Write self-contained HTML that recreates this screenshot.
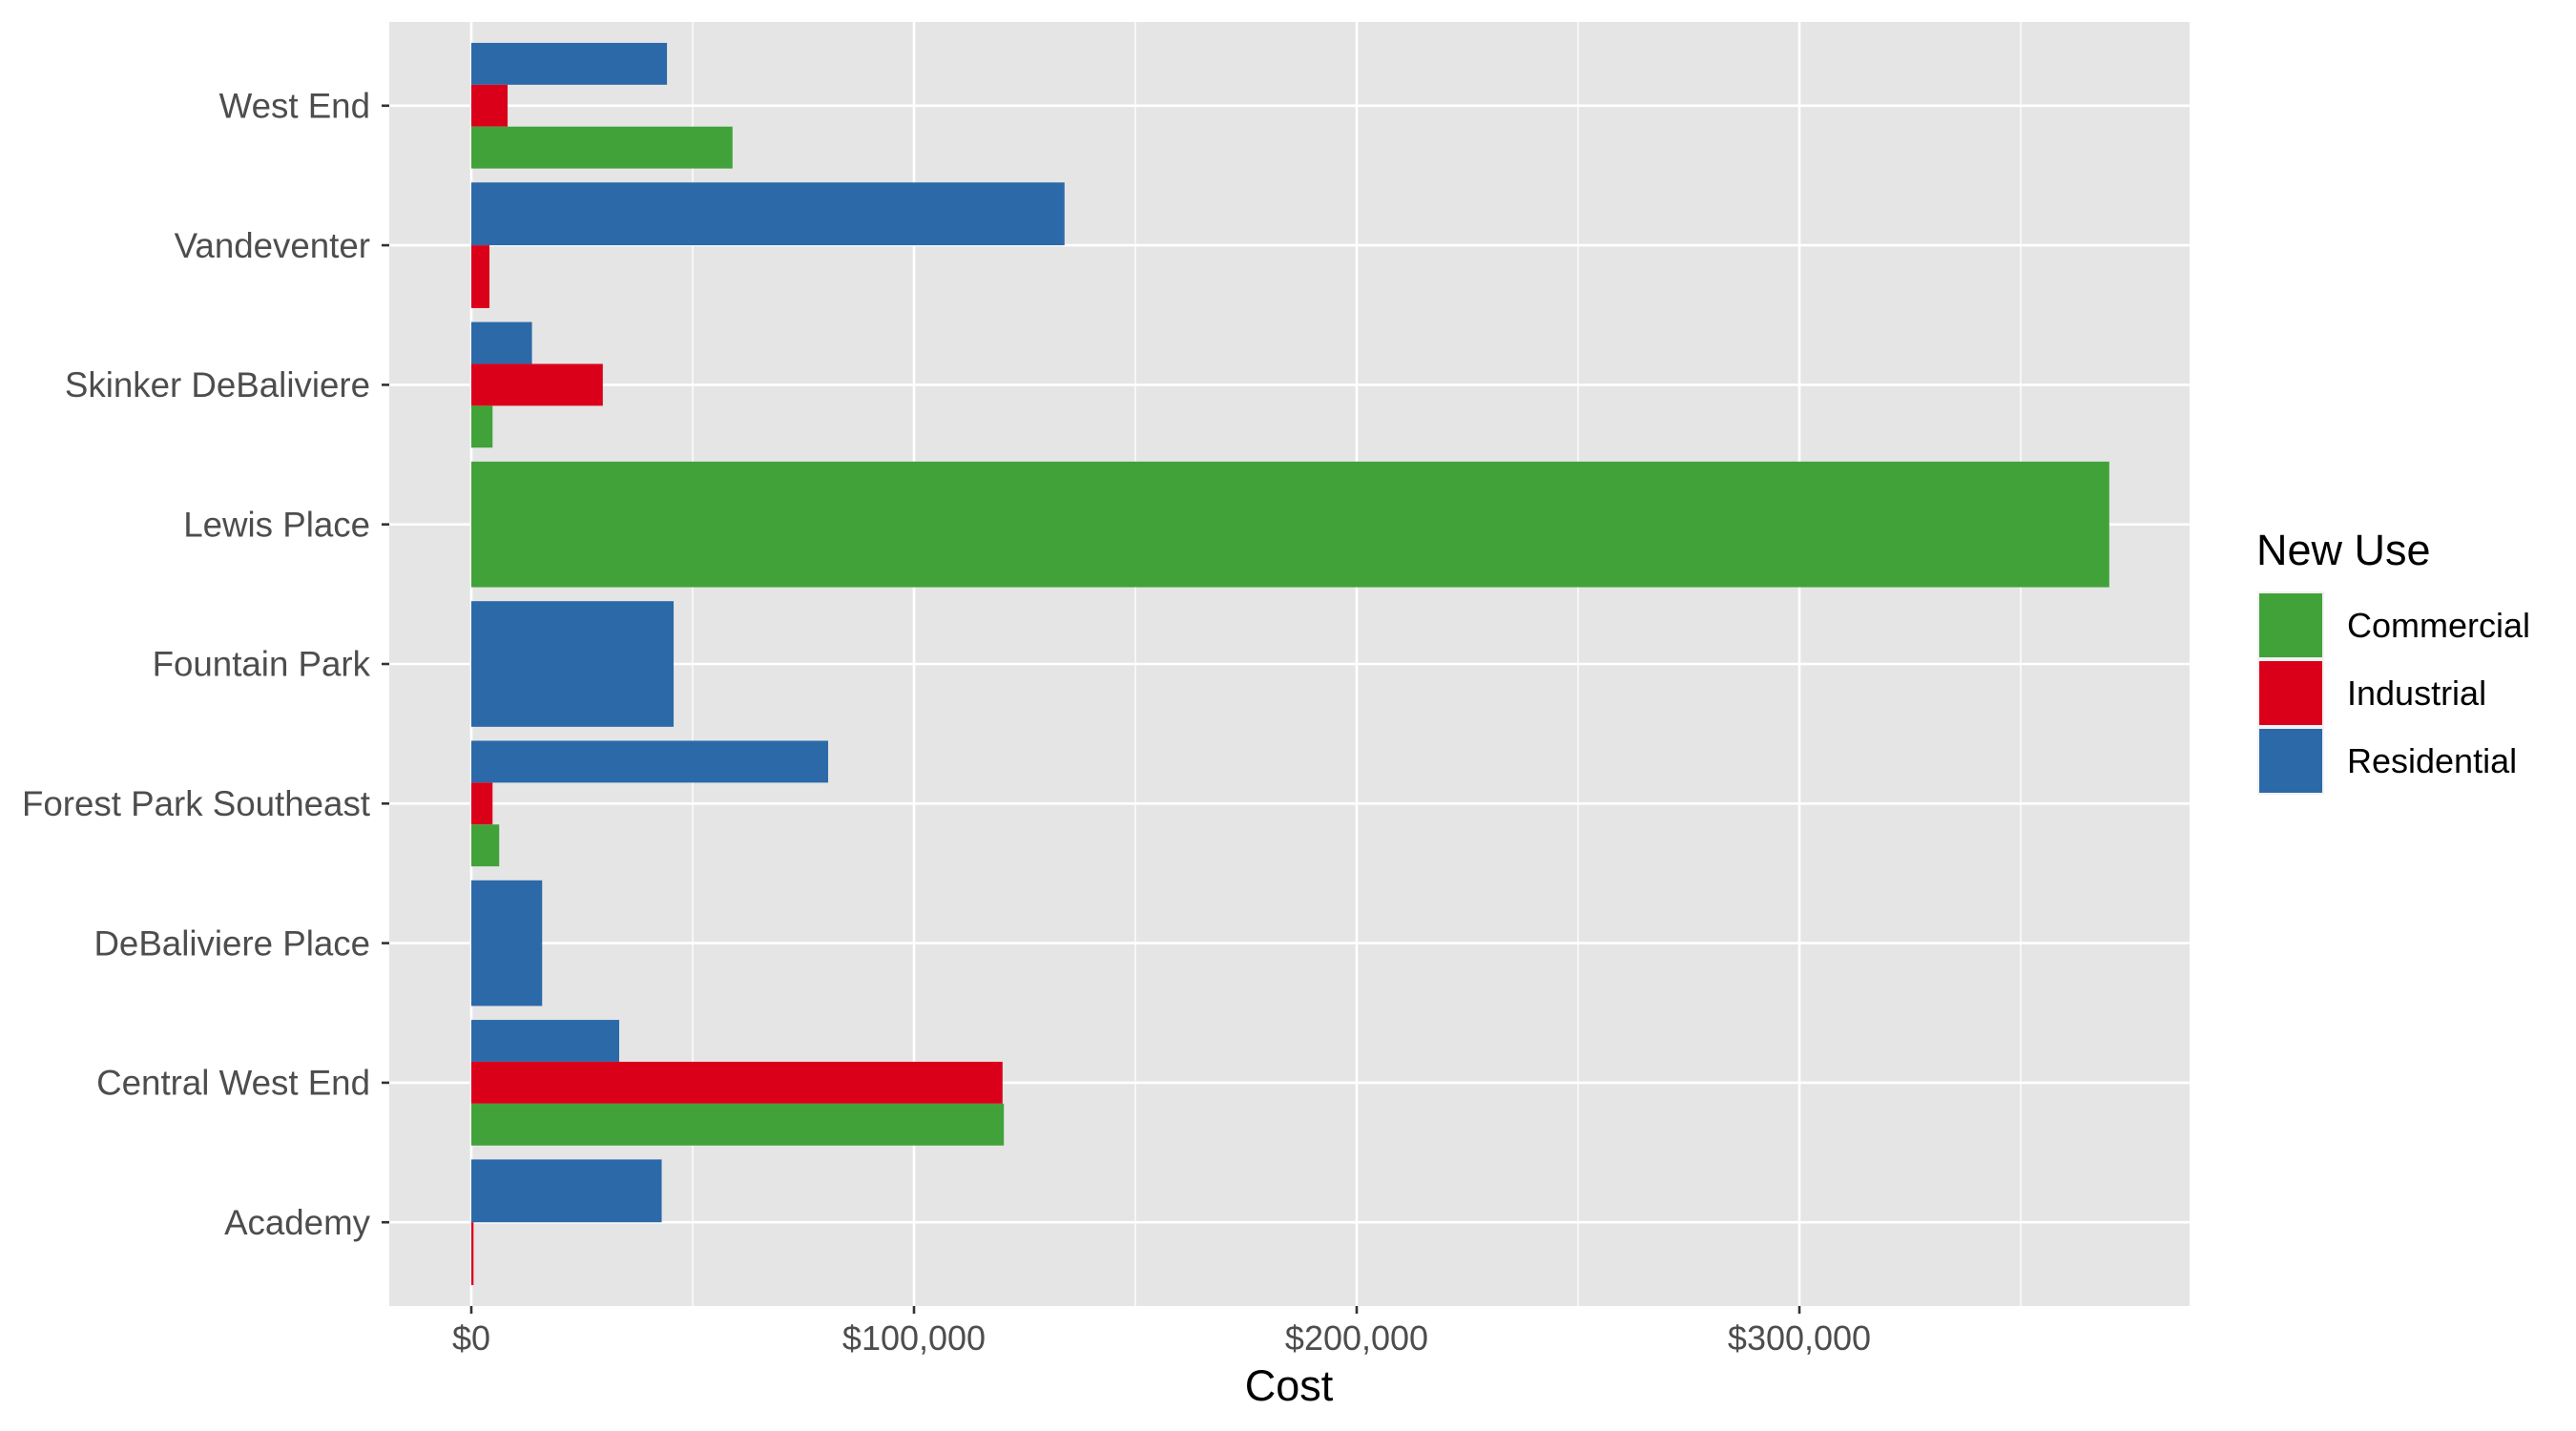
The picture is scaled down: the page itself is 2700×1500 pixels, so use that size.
<!DOCTYPE html>
<html><head><meta charset="utf-8"><style>
html,body{margin:0;padding:0;background:#fff;}
svg{display:block;font-family:"Liberation Sans",Arial,sans-serif;}
</style></head><body>
<svg id="chart" width="2700" height="1500" viewBox="0 0 2700 1500" xmlns="http://www.w3.org/2000/svg">
<rect x="0" y="0" width="2700" height="1500" fill="#ffffff"/>
<rect x="408" y="23" width="1887" height="1346" fill="#e5e5e5"/>
<g id="grid"></g>
<g id="bars"></g>
<g id="axes"></g>
<text x="1351" y="1468" font-size="45" text-anchor="middle" fill="#000">Cost</text>
<g>
<text x="2365" y="592" font-size="45" fill="#000">New Use</text>
<g id="legend-keys"></g>
</g>
</svg>
<script>
const categories = ["West End","Vandeventer","Skinker DeBaliviere","Lewis Place","Fountain Park","Forest Park Southeast","DeBaliviere Place","Central West End","Academy"];
const seriesNames = ["Residential","Industrial","Commercial"];
const seriesColors = ["#2c69a8","#da001a","#41a23a"];
const residential = [44200,134000,13700,null,45700,80600,16000,33400,43000];
const industrial = [8200,4100,29700,null,null,4800,null,120000,500];
const commercial = [59000,null,4800,370000,null,6300,null,120300,null];
const xTicks = [0,100000,200000,300000];
const xTickLabels = ["$0","$100,000","$200,000","$300,000"];

const NS="http://www.w3.org/2000/svg";
const panel={l:408,r:2295,t:23,b:1369};
const x0=494, pxPer=464/100000;
function xs(v){return x0+v*pxPer;}
const unit=(panel.b-panel.t)/(categories.length-1+1.2);
function yc(i){return panel.t+(0.6+i)*unit;}
function mk(tag,attrs,parent){const e=document.createElementNS(NS,tag);for(const k in attrs)e.setAttribute(k,attrs[k]);parent.appendChild(e);return e;}
const grid=document.getElementById('grid'), bars=document.getElementById('bars'), axes=document.getElementById('axes');
for(let k=0;k<xTicks.length;k++){
  const m=xTicks[k]+50000; const x=xs(m);
  if(x<panel.r){const l=mk('line',{x1:x,x2:x,y1:panel.t,y2:panel.b,stroke:'#fff','stroke-width':1.3},grid);
  
  }
}
xTicks.forEach((t,k)=>{
  const x=xs(t);
  const l=mk('line',{x1:x,x2:x,y1:panel.t,y2:panel.b,stroke:'#fff','stroke-width':2.6},grid);
  
  
  const tk=mk('line',{x1:x,x2:x,y1:panel.b,y2:panel.b+8,stroke:'#333','stroke-width':2.6},axes);
  
  
  const tx=mk('text',{x:x,y:1415,'font-size':36,'text-anchor':'middle',fill:'#4d4d4d'},axes);
  tx.textContent=xTickLabels[k];
  
  
});
categories.forEach((c,i)=>{
  const y=yc(i);
  const l=mk('line',{x1:panel.l,x2:panel.r,y1:y,y2:y,stroke:'#fff','stroke-width':2.6},grid);
  
  
  const tk=mk('line',{x1:panel.l-8,x2:panel.l,y1:y,y2:y,stroke:'#333','stroke-width':2.6},axes);
  
  
  const tx=mk('text',{x:panel.l-20,y:y+12.7,'font-size':36.7,'text-anchor':'end',fill:'#4d4d4d'},axes);
  tx.textContent=c;
  
  
  const vals=[residential[i],industrial[i],commercial[i]];
  const present=[];vals.forEach((v,s)=>{if(v!==null)present.push(s);});
  const total=0.9*unit, h=total/present.length;
  present.forEach((s,j)=>{
    const top=y-total/2+j*h;
    const r=mk('rect',{x:xs(0),y:top,width:Math.max(xs(vals[s])-xs(0),0),height:h,fill:seriesColors[s]},bars);
    
    
  });
});
const lk=document.getElementById('legend-keys');
const legOrder=[2,1,0];
legOrder.forEach((s,j)=>{
  const top=620+j*71;
  const bg=mk('rect',{x:2366,y:top,width:70,height:71,fill:'#f2f2f2'},lk);
  
  
  const r=mk('rect',{x:2368,y:top+2,width:66,height:67,fill:seriesColors[s]},lk);
  
  
  const t=mk('text',{x:2460,y:top+48,'font-size':36,fill:'#000'},lk);
  t.textContent=seriesNames[s];
  
  
});
</script>
</body></html>
